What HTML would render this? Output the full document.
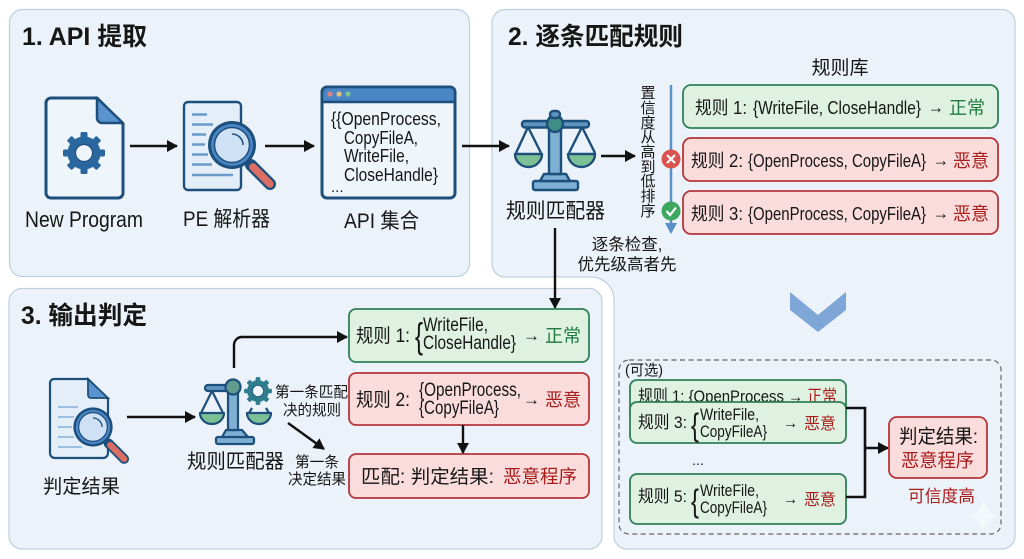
<!DOCTYPE html>
<html lang="zh"><head><meta charset="utf-8"><title>规则匹配流程</title>
<style>
html,body{margin:0;padding:0;background:#fff}
svg{display:block}
text{font-family:"Liberation Sans","Noto Sans CJK SC",sans-serif;fill:#161616}
.t{font-size:25px;font-weight:700}
.g{fill:#1f7a3f}.r{fill:#a81c1c}
.gb{fill:#dff2e1;stroke:#2e8057;stroke-width:1.8}
.rb{fill:#fbdcdc;stroke:#b5363a;stroke-width:1.8}
.ln{fill:none;stroke:#111;stroke-width:2.4}
</style></head><body>
<svg width="1024" height="559" viewBox="0 0 1024 559" xmlns="http://www.w3.org/2000/svg">
<defs>
<marker id="a" markerWidth="13" markerHeight="13" refX="10" refY="6" orient="auto" markerUnits="userSpaceOnUse"><path d="M0 0L11 6L0 12Z" fill="#111"/></marker>
<g id="gear"><g fill="currentColor"><rect x="-3.500" y="-21" width="7" height="42" rx="1.500"/><rect x="-3.500" y="-21" width="7" height="42" rx="1.500" transform="rotate(45)"/><rect x="-3.500" y="-21" width="7" height="42" rx="1.500" transform="rotate(90)"/><rect x="-3.500" y="-21" width="7" height="42" rx="1.500" transform="rotate(135)"/></g><circle r="12.500" fill="none" stroke="currentColor" stroke-width="8"/><circle r="8.500" fill="#eef5fb" stroke="#1d4f7c" stroke-width="1.200"/></g>
<g id="mag"><path d="M19 20L38 39" stroke="#1d4f7c" stroke-width="12" stroke-linecap="round"/><path d="M21 22L38 39" stroke="#dc6e64" stroke-width="7.500" stroke-linecap="round"/><circle r="24" fill="#1d4f7c"/><circle r="21" fill="#4a86c6"/><circle r="17.500" fill="#cfe2f5" stroke="#1d4f7c" stroke-width="1.500"/><path d="M0-11A11 11 0 0 1 11 0" fill="none" stroke="#1d4f7c" stroke-width="1.600"/></g>
</defs>

<rect x="9.500" y="9.500" width="460" height="267" rx="13" fill="#ecf2f9" stroke="#bfcfdc" stroke-width="1.200"/>
<path d="M505 9.500H1002a13 13 0 0 1 13 13V536a13 13 0 0 1-13 13H627a13 13 0 0 1-13-13V300a23 23 0 0 0-23-23H505a13 13 0 0 1-13-13V22.500a13 13 0 0 1 13-13Z" fill="#ecf2f9" stroke="#bfcfdc" stroke-width="1.200"/>
<rect x="9" y="288.500" width="593" height="260.500" rx="13" fill="#ecf2f9" stroke="#bfcfdc" stroke-width="1.200"/>

<text class="t" x="22" y="45" textLength="125" lengthAdjust="spacingAndGlyphs">1. API 提取</text>
<text class="t" x="508" y="45" textLength="175" lengthAdjust="spacingAndGlyphs">2. 逐条匹配规则</text>
<text class="t" x="21" y="324" textLength="126" lengthAdjust="spacingAndGlyphs">3. 输出判定</text>

<path d="M51 98H97L123 124V193a5 5 0 0 1-5 5H51a5 5 0 0 1-5-5V103a5 5 0 0 1 5-5Z" fill="#eef5fb" stroke="#1d4f7c" stroke-width="3"/>
<path d="M97 98V118a5 5 0 0 0 5 5H123Z" fill="#5b93cf" stroke="#1d4f7c" stroke-width="2.500" stroke-linejoin="round"/>
<use href="#gear" transform="translate(84 153)" style="color:#2a679f"/>
<text x="25" y="227" font-size="22" textLength="118" lengthAdjust="spacingAndGlyphs">New Program</text>

<rect x="184" y="102" width="57" height="88" rx="4" fill="#e3eef9" stroke="#1d4f7c" stroke-width="2.400"/>
<g stroke="#6a9bcb" stroke-width="2.400"><path d="M192 114.500H207M192 124.500H213M192 134.500H206M192 144.500H205M192 154.500H208M192 164.500H212M192 175H233"/></g>
<use href="#mag" transform="translate(232 145)"/>
<text x="183" y="226" font-size="21" textLength="87" lengthAdjust="spacingAndGlyphs">PE 解析器</text>

<rect x="322" y="87" width="133" height="111" rx="5" fill="#eef5fb" stroke="#1d4f7c" stroke-width="3"/>
<path d="M322 102V92a5 5 0 0 1 5-5H450a5 5 0 0 1 5 5V102Z" fill="#4a86c6" stroke="#1d4f7c" stroke-width="2.500"/>
<circle cx="330" cy="94" r="2.600" fill="#d9837f"/><circle cx="339" cy="94" r="2.600" fill="#e3c27a"/><circle cx="348" cy="94" r="2.600" fill="#7fc08f"/>
<g font-size="18">
<text x="331" y="125" textLength="110" lengthAdjust="spacingAndGlyphs">{{OpenProcess,</text>
<text x="344" y="144" textLength="74" lengthAdjust="spacingAndGlyphs">CopyFileA,</text>
<text x="344" y="162" textLength="65" lengthAdjust="spacingAndGlyphs">WriteFile,</text>
<text x="344" y="181" textLength="94" lengthAdjust="spacingAndGlyphs">CloseHandle}</text>
<text x="331" y="192" font-size="15">...</text>
</g>
<text x="344" y="228" font-size="21" textLength="75" lengthAdjust="spacingAndGlyphs">API 集合</text>

<path class="ln" d="M130 146H177" marker-end="url(#a)"/>
<path class="ln" d="M265 146H314" marker-end="url(#a)"/>
<path class="ln" d="M462 146H509" marker-end="url(#a)"/>

<g stroke="#1d4f7c" stroke-width="2.400" stroke-linejoin="round">
<rect x="533" y="181" width="45" height="9" rx="2" fill="#7fb0d3"/>
<path d="M540 181L544 174H566L570 181Z" fill="#7fb0d3"/>
<rect x="549" y="118" width="12" height="56" fill="#7fb0d3"/>
<rect x="522" y="121" width="67" height="6.500" rx="3" fill="#5f94bf"/>
<path d="M528 127L516 153M528 127L541 153M582 127L569 153M582 127L595 153" fill="none"/>
<path d="M515 154H542A13.500 13 0 0 1 515 154Z" fill="#7dc096"/>
<path d="M568 154H595A13.500 13 0 0 1 568 154Z" fill="#7dc096"/>
<circle cx="555" cy="124" r="8" fill="#3f8f86"/>
<rect x="550" y="111" width="10" height="7" rx="3.500" fill="#5f94bf"/>
</g>
<text x="506" y="218" font-size="21" textLength="99" lengthAdjust="spacingAndGlyphs">规则匹配器</text>
<path class="ln" d="M601 156H635" marker-end="url(#a)"/>

<g font-size="15" text-anchor="middle">
<text x="648" y="98">置</text><text x="648" y="113">信</text><text x="648" y="128">度</text><text x="648" y="142">从</text><text x="648" y="157">高</text><text x="648" y="172">到</text><text x="648" y="186">低</text><text x="648" y="201">排</text><text x="648" y="216">序</text>
</g>
<path d="M671 85V224" stroke="#5a8fc8" stroke-width="2.500"/>
<path d="M665 223H677L671 234Z" fill="#5a8fc8"/>
<circle cx="671" cy="159" r="9.500" fill="#d9534f"/>
<path d="M667 155L675 163M675 155L667 163" stroke="#fff" stroke-width="2.200"/>
<circle cx="671" cy="211" r="9.500" fill="#3fa860"/>
<path d="M666.500 211L670 215L676 207.500" fill="none" stroke="#fff" stroke-width="2.200"/>

<text x="840" y="74" font-size="19" text-anchor="middle">规则库</text>
<rect class="gb" x="683" y="85" width="315" height="43" rx="8"/>
<rect class="rb" x="683" y="138" width="315" height="43" rx="8"/>
<rect class="rb" x="683" y="191" width="315" height="43" rx="8"/>

<g font-size="18">
<text x="695" y="114" textLength="52" lengthAdjust="spacingAndGlyphs">规则 1:</text>
<text x="753" y="114" textLength="168" lengthAdjust="spacingAndGlyphs">{WriteFile, CloseHandle}</text>
<text x="928" y="113" textLength="16" lengthAdjust="spacingAndGlyphs">→</text>
<text class="g" x="949" y="114">正常</text>
<text x="691" y="167" textLength="52" lengthAdjust="spacingAndGlyphs">规则 2:</text>
<text x="748" y="167" textLength="178" lengthAdjust="spacingAndGlyphs">{OpenProcess, CopyFileA}</text>
<text x="933" y="166" textLength="16" lengthAdjust="spacingAndGlyphs">→</text>
<text class="r" x="953" y="167">恶意</text>
<text x="691" y="220" textLength="52" lengthAdjust="spacingAndGlyphs">规则 3:</text>
<text x="748" y="220" textLength="178" lengthAdjust="spacingAndGlyphs">{OpenProcess, CopyFileA}</text>
<text x="933" y="219" textLength="16" lengthAdjust="spacingAndGlyphs">→</text>
<text class="r" x="953" y="220">恶意</text>
</g>
<text x="627" y="250" font-size="16.500" text-anchor="middle">逐条检查,</text>
<text x="627" y="270" font-size="16.500" text-anchor="middle">优先级高者先</text>

<path class="ln" d="M555 228V308" marker-end="url(#a)"/>

<path d="M54 379H88L108 399V453a5 5 0 0 1-5 5H55a5 5 0 0 1-5-5V383a4 4 0 0 1 4-4Z" fill="#e3eef9" stroke="#1d4f7c" stroke-width="2.200"/>
<path d="M88 379V395a3 3 0 0 0 3 3H108Z" fill="#5b93cf" stroke="#1d4f7c" stroke-width="1.800"/>
<path d="M58 407H78M58 417H74M58 427H72M58 437H74M58 447H82" stroke="#9dbfe0" stroke-width="2"/>
<g transform="translate(93 427) scale(.82)"><use href="#mag"/></g>
<text x="43" y="493" font-size="19.500" textLength="77" lengthAdjust="spacingAndGlyphs">判定结果</text>
<path class="ln" d="M127 417H195" marker-end="url(#a)"/>

<g stroke="#1d4f7c" stroke-width="2.200" stroke-linejoin="round">
<rect x="216" y="437" width="38" height="7" rx="2" fill="#7fb0d3"/>
<path d="M222 437L226 430H242L248 437Z" fill="#7fb0d3"/>
<rect x="228" y="382" width="10" height="48" fill="#7fb0d3"/>
<rect x="205" y="385" width="34" height="6" rx="3" fill="#5f94bf"/>
<path d="M212 391L201 413M212 391L223 413" fill="none"/>
<path d="M200 413H224A12 11 0 0 1 200 413Z" fill="#7dc096"/>
<circle cx="233" cy="387" r="7.500" fill="#5f9c8e"/>
<path d="M247 413H271A12 11 0 0 1 247 413Z" fill="#7dc096"/>
<path d="M249 413L252 408M269 413L266 408" fill="none"/>
</g>
<g transform="translate(258 391) scale(.66)" style="color:#2f7d8c"><use href="#gear"/></g>
<text x="187" y="468" font-size="20" textLength="97" lengthAdjust="spacingAndGlyphs">规则匹配器</text>
<path class="ln" d="M234 368V345a8 8 0 0 1 8-8H347" marker-end="url(#a)"/>
<text x="275" y="397" font-size="15" textLength="73" lengthAdjust="spacingAndGlyphs">第一条匹配</text>
<text x="283" y="415" font-size="15" textLength="58" lengthAdjust="spacingAndGlyphs">决的规则</text>
<path class="ln" d="M288 423L324 449" marker-end="url(#a)"/>
<text x="295" y="467" font-size="15" textLength="44" lengthAdjust="spacingAndGlyphs">第一条</text>
<text x="288" y="484" font-size="15" textLength="58" lengthAdjust="spacingAndGlyphs">决定结果</text>

<rect class="gb" x="349" y="309" width="240" height="53" rx="7"/>
<rect class="rb" x="349" y="373" width="240" height="52" rx="7"/>
<rect class="rb" x="349" y="454" width="240" height="44" rx="7"/>
<text x="356" y="342" font-size="19" textLength="54" lengthAdjust="spacingAndGlyphs">规则 1:</text>
<text x="415" y="348" font-size="36" textLength="8" lengthAdjust="spacingAndGlyphs">{</text>
<text x="423" y="331" font-size="19" textLength="65" lengthAdjust="spacingAndGlyphs">WriteFile,</text>
<text x="423" y="349" font-size="19" textLength="93" lengthAdjust="spacingAndGlyphs">CloseHandle}</text>
<text x="523" y="341" font-size="17" textLength="17" lengthAdjust="spacingAndGlyphs">→</text>
<text class="g" x="545" y="342" font-size="18">正常</text>
<text x="356" y="406" font-size="19" textLength="54" lengthAdjust="spacingAndGlyphs">规则 2:</text>
<text x="419" y="396" font-size="19" textLength="102" lengthAdjust="spacingAndGlyphs">{OpenProcess,</text>
<text x="419" y="414" font-size="19" textLength="80" lengthAdjust="spacingAndGlyphs">{CopyFileA}</text>
<text x="523" y="405" font-size="17" textLength="17" lengthAdjust="spacingAndGlyphs">→</text>
<text class="r" x="545" y="406" font-size="18">恶意</text>
<path class="ln" d="M463 425V453" marker-end="url(#a)"/>
<text x="361" y="483" font-size="19" textLength="133" lengthAdjust="spacingAndGlyphs">匹配: 判定结果:</text>
<text class="r" x="503" y="483" font-size="18.500" textLength="74" lengthAdjust="spacingAndGlyphs">恶意程序</text>

<path d="M790 292L818 315L846 292V310L818 332L790 310Z" fill="#7ea6d6"/>

<rect x="619" y="360" width="382" height="174" rx="10" fill="none" stroke="#666" stroke-width="1.200" stroke-dasharray="5 3.500"/>
<text x="625" y="375" font-size="15" textLength="38" lengthAdjust="spacingAndGlyphs">(可选)</text>
<rect class="gb" x="630" y="380" width="216" height="40" rx="7"/>
<text x="638" y="402" font-size="17" textLength="199" lengthAdjust="spacingAndGlyphs">规则 1: {OpenProcess → <tspan class="r">正常</tspan></text>
<rect class="gb" x="630" y="402" width="216" height="41" rx="7"/>
<text x="638" y="428" font-size="17" textLength="49" lengthAdjust="spacingAndGlyphs">规则 3:</text>
<text x="691" y="436" font-size="32" textLength="8" lengthAdjust="spacingAndGlyphs">{</text>
<text x="700" y="420" font-size="17" textLength="59" lengthAdjust="spacingAndGlyphs">WriteFile,</text>
<text x="700" y="437" font-size="17" textLength="67" lengthAdjust="spacingAndGlyphs">CopyFileA}</text>
<text x="783" y="428" font-size="16" textLength="15" lengthAdjust="spacingAndGlyphs">→</text>
<text class="r" x="804" y="429" font-size="16">恶意</text>
<text x="698" y="465" font-size="14" text-anchor="middle">...</text>
<rect class="gb" x="630" y="474" width="216" height="50" rx="7"/>
<text x="638" y="502" font-size="17" textLength="49" lengthAdjust="spacingAndGlyphs">规则 5:</text>
<text x="691" y="512" font-size="32" textLength="8" lengthAdjust="spacingAndGlyphs">{</text>
<text x="700" y="496" font-size="17" textLength="59" lengthAdjust="spacingAndGlyphs">WriteFile,</text>
<text x="700" y="513" font-size="17" textLength="67" lengthAdjust="spacingAndGlyphs">CopyFileA}</text>
<text x="783" y="504" font-size="16" textLength="15" lengthAdjust="spacingAndGlyphs">→</text>
<text class="r" x="804" y="505" font-size="16">恶意</text>
<path d="M846 408H865V497H846" fill="none" stroke="#111" stroke-width="2.600"/>
<path class="ln" d="M865 448H888" marker-end="url(#a)"/>
<rect class="rb" x="889" y="417" width="98" height="61" rx="8"/>
<text x="899" y="443" font-size="19.500" textLength="79" lengthAdjust="spacingAndGlyphs">判定结果:</text>
<text class="r" x="901" y="467" font-size="18.500" textLength="73" lengthAdjust="spacingAndGlyphs">恶意程序</text>
<text class="r" x="908" y="502" font-size="17" textLength="67" lengthAdjust="spacingAndGlyphs">可信度高</text>
<path d="M983 498Q985 513 998 516Q985 519 983 532Q981 519 968 516Q981 513 983 498Z" fill="#f3f8fc"/>
</svg>
</body></html>
